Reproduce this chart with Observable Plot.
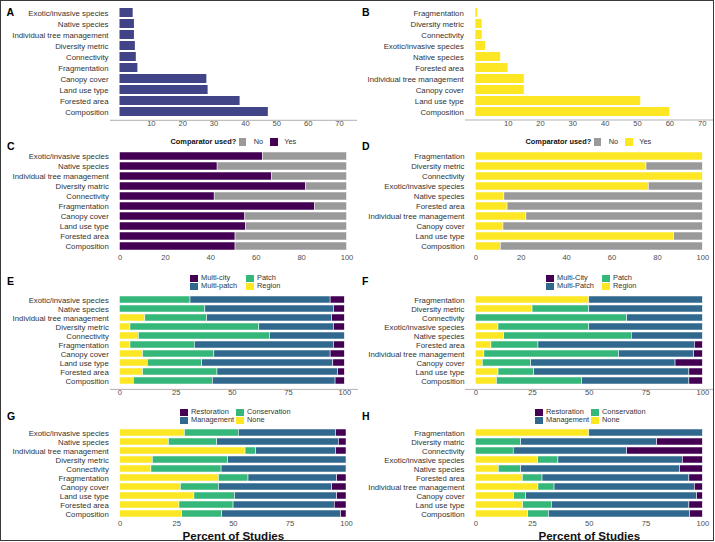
<!DOCTYPE html>
<html><head><meta charset="utf-8">
<script src="https://cdn.jsdelivr.net/npm/d3@7"></script>
<script src="https://cdn.jsdelivr.net/npm/@observablehq/plot@0.6"></script>
<style>
body{margin:0;background:#fff;}
#fig{position:relative;width:715px;height:542px;font-family:"Liberation Sans",Arial,sans-serif;overflow:hidden;}
.frame{position:absolute;left:0;top:0;width:714px;height:541px;box-sizing:border-box;border:1.5px solid #3a3a3a;pointer-events:none;z-index:5}
.letter{position:absolute;font-weight:bold;font-size:10.5px;line-height:1;color:#000}
.panel{position:absolute}
.leg{position:absolute;font-size:7.4px;color:#333;line-height:8px;white-space:nowrap}
.grid{display:grid;grid-auto-flow:column;grid-template-rows:8.2px 8.2px;grid-template-columns:56px auto}
.item{display:flex;align-items:center}
.box{display:inline-block;width:7.5px;height:7.5px;margin-right:3.5px}
.row{display:flex;align-items:center}
</style></head><body><div id="fig"><div class="frame"></div></div><script>
// ---------- data ----------
const catsA = ["Exotic/invasive species","Native species","Individual tree management","Diversity metric","Connectivity","Fragmentation","Canopy cover","Land use type","Forested area","Composition"];
const valuesA = [4.2,4.6,4.6,4.9,5.2,5.7,27.7,28.1,38.3,47.3];
const catsB = ["Fragmentation","Diversity metric","Connectivity","Exotic/invasive species","Native species","Forested area","Individual tree management","Canopy cover","Land use type","Composition"];
const valuesB = [0.6,2,2,3,7.7,10,15,15,51,60];
const countTicks = [10,20,30,40,50,60,70];

const catsC = ["Exotic/invasive species","Native species","Individual tree management","Diversity matric","Connectivity","Fragmentation","Canopy cover","Land use type","Forested area","Composition"];
const yesC = [63,43,67,82,41.7,86,55.2,55.6,50.9,50.9];
const catsD = catsB;
const yesD = [100,75.2,100,76.2,12.6,14,22.3,12.2,87.4,11];
const compGroups = ["Yes","No"];
const pctTicksC = [0,20,40,60,80,100];

const catsE = ["Exotic/invasive species","Native species","Individual tree management","Diversity metric","Connectivity","Fragmentation","Canopy cover","Land use type","Forested area","Composition"];
const scaleGroups = ["Region","Patch","Multi-patch","Multi-city"];
const eRegion = [0,0,11.3,4.7,8.4,4.7,10.3,12.4,10.3,6.2];
const ePatch = [31.4,38,27.5,57.3,58.3,28.6,31.7,24.2,33.1,35.1];
const eMultiPatch = [62.3,57.2,55.6,33.2,33.3,61.9,51.7,58.3,53.6,54.6];
const eMultiCity = [6.3,4.8,5.6,4.8,0,4.8,6.3,5.1,3,4.1];

const catsF = catsB;
const fRegion = [50,25,0,10,12.5,6.9,3.8,3.1,10,9.3];
const fPatch = [0,25,66.7,40,56.2,20.7,59.3,21.3,15.7,37.5];
const fMultiPatch = [50,50,33.3,50,31.3,68.9,33.1,63.6,68.4,47.3];
const fMultiCity = [0,0,0,0,0,3.5,3.8,12,5.9,5.9];

const catsG = catsE;
const goalGroups = ["None","Conservation","Management","Restoration"];
const gNone = [28.6,21.5,55.4,14.4,13.8,43.6,26.8,32.8,26.2,27.4];
const gConservation = [23.8,21.4,4.7,33.3,31,13.1,16.8,17.9,23.9,17.7];
const gManagement = [43,53.7,35.3,52.3,55.2,39.2,50.1,45.2,44.7,52.5];
const gRestoration = [4.6,3.4,4.6,0,0,4.1,6.3,4.1,5.2,2.4];

const catsH = ["Fragmentation","Diversity matric","Connectivity","Exotic/invasive species","Native species","Forested area","Individual tree management","Canopy cover","Land use type","Composition"];
const hNone = [50,0,0,27.5,10.1,20.7,27.6,16.9,20.9,23.1];
const hConservation = [0,20,16.7,8.9,9.9,8.7,7.1,5.3,12.6,9.1];
const hManagement = [50,59.9,50,54.8,70,64.7,61.8,75.3,60.6,62.2];
const hRestoration = [0,20.1,33.3,8.8,10,5.9,3.5,2.5,5.9,5.6];
const pctTicks = [0,25,50,75,100];

const viridis4 = ["#FDE725","#35B779","#31688E","#440154"];
const grey = "#9a9a9a";

// ---------- helpers ----------
function tidy(cats, series, names) {
  const rows = [];
  cats.forEach((c, i) => series.forEach((s, j) => rows.push({cat: c, group: names[j], value: s[i]})));
  return rows;
}
const fig = document.getElementById("fig");

function panel(o) {
  const marks = [];
  if (o.axisLine) marks.push(Plot.frame({anchor: "bottom", stroke: "#a8a8a8", strokeWidth: 0.9}));
  marks.push(Plot.barX(o.rows, {x: "value", y: "cat", fill: "group", order: o.groups,
    stroke: o.stroke ? "white" : null, strokeWidth: 0.5}));
  marks.push(Plot.axisY({tickSize: 0, tickPadding: o.yPad, fontSize: 7.8, color: "#333", label: null}));
  marks.push(Plot.axisX({ticks: o.ticks, tickSize: 0, tickPadding: o.xPad, fontSize: 7.6, color: "#4d4d4d", label: null}));
  if (o.title) marks.push(Plot.text([o.title], {text: d => d, frameAnchor: "bottom", dy: 17.6, lineAnchor: "bottom",
    fontSize: 11.6, fontWeight: "bold", fill: "#111"}));
  const svg = Plot.plot({
    width: o.width, height: o.height,
    marginTop: o.mt, marginBottom: o.mb, marginLeft: o.ml, marginRight: o.mr,
    x: {domain: o.xDomain},
    y: {domain: o.cats, padding: o.pad},
    color: {domain: o.groups, range: o.colors},
    style: {fontFamily: "Liberation Sans, Arial, sans-serif", background: "transparent", overflow: "visible"},
    marks
  });
  const d = document.createElement("div");
  d.className = "panel";
  d.style.left = o.left + "px"; d.style.top = o.top + "px";
  d.appendChild(svg);
  fig.appendChild(d);
}
function letter(t, x, y) {
  const d = document.createElement("div");
  d.className = "letter"; d.textContent = t;
  d.style.left = x + "px"; d.style.top = y + "px";
  fig.appendChild(d);
}
function gridLegend(x, y, labels, colors) {
  const d = document.createElement("div");
  d.className = "leg grid";
  d.style.left = x + "px"; d.style.top = y + "px";
  labels.forEach((l, i) => {
    const it = document.createElement("div"); it.className = "item";
    const b = document.createElement("span"); b.className = "box"; b.style.background = colors[i];
    const t = document.createElement("span"); t.textContent = l;
    it.appendChild(b); it.appendChild(t); d.appendChild(it);
  });
  fig.appendChild(d);
}
function compLegend(x, y, yesColor) {
  const d = document.createElement("div");
  d.className = "leg row";
  d.style.left = x + "px"; d.style.top = y + "px";
  d.innerHTML = `<b style="color:#111;margin-right:2.5px">Comparator used?</b>` +
    `<span class="box" style="background:${grey};margin-right:7.5px"></span><span style="margin-right:7px">No</span>` +
    `<span class="box" style="background:${yesColor};margin-right:6.5px"></span><span>Yes</span>`;
  fig.appendChild(d);
}

// ---------- panels ----------
panel({left: 0, top: 0, width: 357, height: 130, mt: 4.2, mb: 10.2, ml: 110, mr: 1,
  xDomain: [-3.03, 75.42], ticks: countTicks, pad: 0.2, axisLine: true, yPad: 2, xPad: 0.5,
  cats: catsA, rows: tidy(catsA, [valuesA], ["n"]), groups: ["n"], colors: ["#414487"]});
panel({left: 357, top: 0, width: 357, height: 130, mt: 3.9, mb: 10.5, ml: 108, mr: 1,
  xDomain: [-3.18, 73.49], ticks: countTicks, pad: 0.2, axisLine: true, yPad: 1.7, xPad: 0.5,
  cats: catsB, rows: tidy(catsB, [valuesB], ["n"]), groups: ["n"], colors: ["#FDE725"]});

panel({left: 0, top: 130, width: 357, height: 135, mt: 18, mb: 11.3, ml: 119.5, mr: 10.5,
  xDomain: [0, 100], ticks: pctTicksC, pad: 0.16, yPad: 11.2, xPad: 0.8, stroke: true,
  cats: catsC, rows: tidy(catsC, [yesC, yesC.map(v => 100 - v)], compGroups), groups: compGroups, colors: ["#440154", grey]});
panel({left: 357, top: 130, width: 357, height: 135, mt: 18, mb: 11.3, ml: 118.3, mr: 11.7,
  xDomain: [0, 100], ticks: pctTicksC, pad: 0.16, yPad: 11.3, xPad: 0.8, stroke: true,
  cats: catsD, rows: tidy(catsD, [yesD, yesD.map(v => 100 - v)], compGroups), groups: compGroups, colors: ["#FDE725", grey]});

panel({left: 0, top: 265, width: 357, height: 133, mt: 26, mb: 9.1, ml: 110, mr: 0,
  xDomain: [-4.18, 105.65], ticks: pctTicks, pad: 0.18, axisLine: true, yPad: 1.7, xPad: 0.3, stroke: true,
  cats: catsE, rows: tidy(catsE, [eRegion, ePatch, eMultiPatch, eMultiCity], scaleGroups), groups: scaleGroups, colors: viridis4});
panel({left: 357, top: 265, width: 357, height: 133, mt: 26, mb: 9.1, ml: 108, mr: 1,
  xDomain: [-4.54, 104.71], ticks: pctTicks, pad: 0.18, axisLine: true, yPad: 1, xPad: 0.3, stroke: true,
  cats: catsF, rows: tidy(catsF, [fRegion, fPatch, fMultiPatch, fMultiCity], scaleGroups), groups: scaleGroups, colors: viridis4});

panel({left: 0, top: 398, width: 357, height: 144, mt: 27, mb: 20.3, ml: 119.7, mr: 11,
  xDomain: [0, 100], ticks: pctTicks, pad: 0.18, yPad: 11.4, xPad: -2, stroke: true, title: "Percent of Studies",
  cats: catsG, rows: tidy(catsG, [gNone, gConservation, gManagement, gRestoration], goalGroups), groups: goalGroups, colors: viridis4});
panel({left: 357, top: 398, width: 357, height: 144, mt: 27, mb: 20.3, ml: 118.3, mr: 11.7,
  xDomain: [0, 100], ticks: pctTicks, pad: 0.18, yPad: 11.3, xPad: -2, stroke: true, title: "Percent of Studies",
  cats: catsH, rows: tidy(catsH, [hNone, hConservation, hManagement, hRestoration], goalGroups), groups: goalGroups, colors: viridis4});

// ---------- legends ----------
compLegend(170.5, 137.8, "#440154");
compLegend(525.5, 137.8, "#FDE725");
gridLegend(190, 274.2, ["Multi-city", "Multi-patch", "Patch", "Region"], ["#440154", "#31688E", "#35B779", "#FDE725"]);
gridLegend(546, 274.2, ["Multi-City", "Multi-Patch", "Patch", "Region"], ["#440154", "#31688E", "#35B779", "#FDE725"]);
gridLegend(180, 408.2, ["Restoration", "Management", "Conservation", "None"], ["#440154", "#31688E", "#35B779", "#FDE725"]);
gridLegend(535, 408.2, ["Restoration", "Management", "Conservation", "None"], ["#440154", "#31688E", "#35B779", "#FDE725"]);

// ---------- panel letters ----------
[["A",6.5,7],["B",362,7],["C",7,140.5],["D",362,140.5],["E",7,276.3],["F",362,276.3],["G",7,411.3],["H",362,411.3]]
  .forEach(([t, x, y]) => letter(t, x, y));
</script></body></html>
